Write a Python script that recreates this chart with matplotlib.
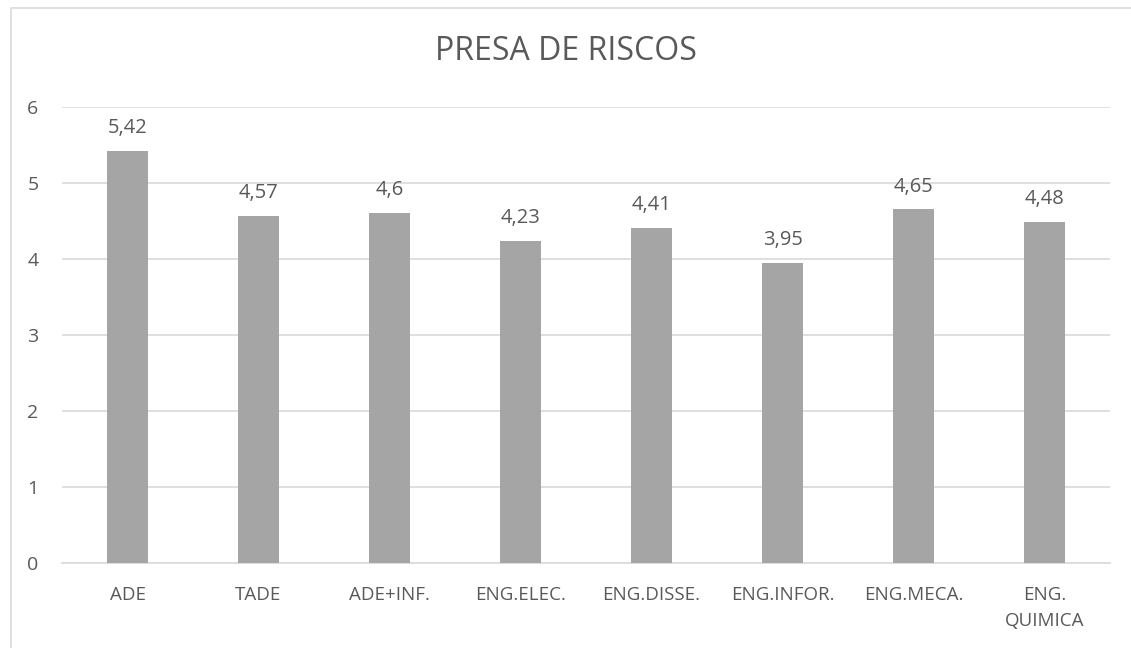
import matplotlib
matplotlib.use("Agg")
import matplotlib.pyplot as plt
from matplotlib.patches import Rectangle

categories = ["ADE", "TADE", "ADE+INF.", "ENG.ELEC.", "ENG.DISSE.", "ENG.INFOR.", "ENG.MECA.", "ENG.\nQUIMICA"]
values = [5.42, 4.57, 4.6, 4.23, 4.41, 3.95, 4.65, 4.48]
value_labels = ["5,42", "4,57", "4,6", "4,23", "4,41", "3,95", "4,65", "4,48"]

plt.rcParams['font.family'] = ['Open Sans', 'DejaVu Sans']
textColor = "#595959"

W, H = 1131, 648
fig = plt.figure(figsize=(W / 100, H / 100), dpi=100)

# frame around the chart (right and bottom edges fall outside the picture)
fig.patches.append(Rectangle((11 / W, -0.05), 1.1, 1.05 - 8 / H, transform=fig.transFigure,
                             fill=False, edgecolor="#D9D9D9", linewidth=1.2))

ax = fig.add_axes([62 / W, (H - 562.5) / H, (1110 - 62) / W, (562.5 - 107) / H])

x = range(len(categories))
ax.bar(x, values, width=0.31, color="#A5A5A5", zorder=3)
for i, v in enumerate(values):
    ax.text(i, v + 0.17, value_labels[i], ha="center", va="bottom", fontsize=14.5, color=textColor)

ax.set_xlim(-0.5, len(categories) - 0.5)
ax.set_ylim(0, 6)
ax.set_yticks(range(7))
ax.yaxis.grid(True, color="#D9D9D9", linewidth=1.2, zorder=0)
ax.set_xticks(list(x))
ax.set_xticklabels(categories, fontsize=13.5, color=textColor, linespacing=1.55)
ax.tick_params(axis="y", labelsize=14, labelcolor=textColor, length=0, pad=17)
ax.tick_params(axis="x", length=0, pad=17)
for s in ["top", "right", "left"]:
    ax.spines[s].set_visible(False)
ax.spines["bottom"].set_color("#D9D9D9")
ax.spines["bottom"].set_linewidth(1.2)

fig.text(0.5, 1 - 52 / H, "PRESA DE RISCOS", ha="center", va="center", fontsize=23, color=textColor)

fig.savefig("out.png", dpi=100)
